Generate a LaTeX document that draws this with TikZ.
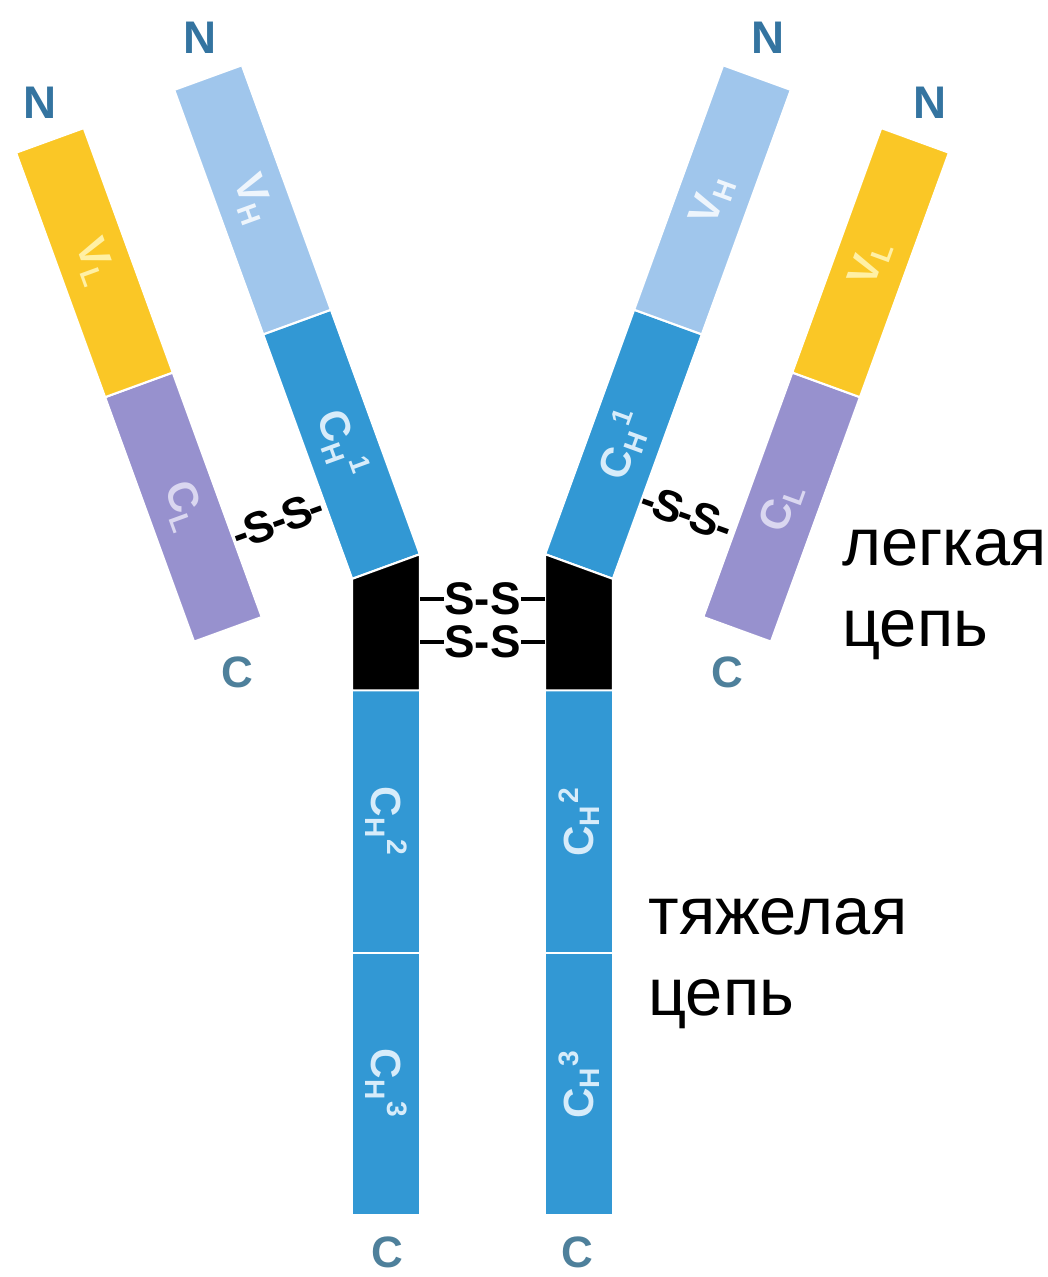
\documentclass[tikz,border=0pt]{standalone}
\usepackage{fontspec}
\setmainfont{Liberation Sans}
\usepackage{tikz}
\definecolor{vlyel}{RGB}{250,199,38}
\definecolor{clpur}{RGB}{151,145,206}
\definecolor{vhsky}{RGB}{160,198,236}
\definecolor{chblue}{RGB}{50,152,212}
\definecolor{vltext}{RGB}{255,240,165}
\definecolor{cltext}{RGB}{218,215,240}
\definecolor{vhtext}{RGB}{238,245,252}
\definecolor{chtext}{RGB}{215,236,250}
\definecolor{nterm}{RGB}{52,116,160}
\definecolor{cterm}{RGB}{78,128,155}
\begin{document}
\begin{tikzpicture}[x=0.01cm, y=-0.01cm, dom/.style={draw=white, line width=0.6pt, inner sep=0pt, outer sep=0pt, minimum width=2.6cm, minimum height=0.72cm, font=\fontsize{12}{14}\selectfont\bfseries}, col/.style={dom, minimum width=2.62cm, minimum height=0.68cm}, nlab/.style={font=\fontsize{13}{15}\selectfont\bfseries, text=nterm}, clab/.style={font=\fontsize{12.5}{15}\selectfont\bfseries, text=cterm}, chainlab/.style={font=\fontsize{19}{23}\selectfont, align=left, anchor=west}, ss/.style={font=\fontsize{13}{14}\selectfont\bfseries, inner sep=0pt}]
	\useasboundingbox (0,0) rectangle (1047,1277);
	\node[dom, fill=chblue, text=chtext, rotate=-70] (ch1L) at (341.5,444.3) {C\textsubscript{H}\textsuperscript{1}};
	\node[dom, fill=vhsky, text=vhtext, rotate=-70, anchor=east] (vhL) at (ch1L.west) {V\textsubscript{H}};
	\node[dom, fill=chblue, text=chtext, rotate=70] (ch1R) at (623.5,444.3) {C\textsubscript{H}\textsuperscript{1}};
	\node[dom, fill=vhsky, text=vhtext, rotate=70, anchor=west] (vhR) at (ch1R.east) {V\textsubscript{H}};
	\node[dom, fill=clpur, text=cltext, rotate=-70] (clL) at (183.4,507.1) {C\textsubscript{L}};
	\node[dom, fill=vlyel, text=vltext, rotate=-70, anchor=east] (vlL) at (clL.west) {V\textsubscript{L}};
	\node[dom, fill=clpur, text=cltext, rotate=70] (clR) at (781.6,507.1) {C\textsubscript{L}};
	\node[dom, fill=vlyel, text=vltext, rotate=70, anchor=west] (vlR) at (clR.east) {V\textsubscript{L}};
	\node[col, fill=chblue, text=chtext, rotate=-90] (ch2L) at (386,821.5) {C\textsubscript{H}\textsuperscript{2}};
	\node[col, fill=chblue, text=chtext, rotate=-90, anchor=west] (ch3L) at (ch2L.east) {C\textsubscript{H}\textsuperscript{3}};
	\node[col, fill=chblue, text=chtext, rotate=90] (ch2R) at (579,821.5) {C\textsubscript{H}\textsuperscript{2}};
	\node[col, fill=chblue, text=chtext, rotate=90, anchor=east] (ch3R) at (ch2R.west) {C\textsubscript{H}\textsuperscript{3}};
	\filldraw[fill=black, draw=white, line width=0.6pt] (ch1L.south east) -- (ch1L.north east) -- (ch2L.north west) -- (ch2L.south west) -- cycle;
	\filldraw[fill=black, draw=white, line width=0.6pt] (ch1R.north west) -- (ch1R.south west) -- (ch2R.south east) -- (ch2R.north east) -- cycle;
	\node[ss] (ss1) at (482.5,599) {S-S};
	\node[ss] (ss2) at (482.5,642) {S-S};
	\foreach \s in {ss1,ss2} {
		\draw[line width=1pt] (\s.west -| ch2L.north) -- (\s.west);
		\draw[line width=1pt] (\s.east) -- (\s.east -| ch2R.north);
	}
	\node[ss, font=\fontsize{12.5}{13}\selectfont\bfseries, rotate=20] (ssL) at (278,520) {-\kern-0.6pt S\kern-0.6pt-\kern-0.6pt S\kern-0.6pt-};
	\node[ss, font=\fontsize{12.5}{13}\selectfont\bfseries, rotate=-20] (ssR) at (687,513) {-\kern-0.6pt S\kern-0.6pt-\kern-0.6pt S\kern-0.6pt-};
	\node[nlab] (nvhL) at (200,38) {N};
	\node[nlab] (nvlL) at (40,103) {N};
	\node[nlab] (nvhR) at (768,38) {N};
	\node[nlab] (nvlR) at (930,103) {N};
	\node[clab] (cclL) at (237,672) {C};
	\node[clab] (cclR) at (727,672) {C};
	\node[clab] (cch3L) at (387,1252) {C};
	\node[clab] (cch3R) at (577,1252) {C};
	\node[chainlab] (light) at (830,595) {легкая\\цепь};
	\node[chainlab] (heavy) at (636,964) {тяжелая\\цепь};
\end{tikzpicture}
\end{document}
